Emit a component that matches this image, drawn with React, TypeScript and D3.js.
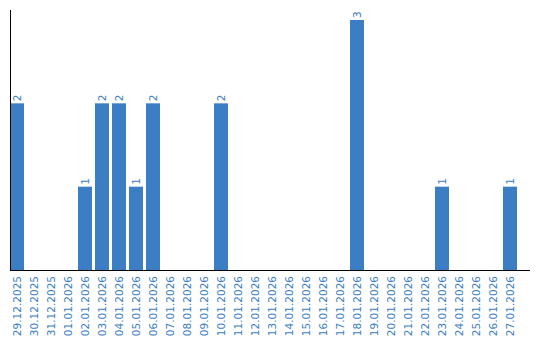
import React from "react";
import * as d3 from "d3";

const categories: string[] = [
  "29.12.2025", "30.12.2025", "31.12.2025", "01.01.2026", "02.01.2026", "03.01.2026",
  "04.01.2026", "05.01.2026", "06.01.2026", "07.01.2026", "08.01.2026", "09.01.2026",
  "10.01.2026", "11.01.2026", "12.01.2026", "13.01.2026", "14.01.2026", "15.01.2026",
  "16.01.2026", "17.01.2026", "18.01.2026", "19.01.2026", "20.01.2026", "21.01.2026",
  "22.01.2026", "23.01.2026", "24.01.2026", "25.01.2026", "26.01.2026", "27.01.2026",
];
const values: number[] = [
  2, 0, 0, 0, 1, 2, 2, 1, 2, 0, 0, 0, 2, 0, 0, 0, 0, 0, 0, 0, 3, 0, 0, 0, 0, 1, 0, 0, 0, 1,
];

const W = 540;
const H = 340;
const color = "#3b7ec3";
const font = "'DejaVu Sans', Verdana, sans-serif";

export default function App() {
  const x = d3.scaleBand<string>().domain(categories).range([10, 517]).paddingInner(3 / 17).paddingOuter(0);
  const y = d3.scaleLinear().domain([0, 3.12]).range([270, 10]);
  const bw = x.bandwidth();
  return (
    <svg width={W} height={H} style={{ position: "absolute", left: 0, top: 0 }}>
      {categories.map((c, i) => {
        const v = values[i];
        if (!v) return null;
        const x0 = x(c)!;
        return (
          <rect key={"b" + c} x={x0} y={y(v)} width={bw} height={y(0) - y(v)} fill={color} />
        );
      })}
      {categories.map((c, i) => {
        const v = values[i];
        if (!v) return null;
        const cx = x(c)! + bw / 2;
        return (
          <text
            key={"v" + c}
            transform={`translate(${cx + 4},${y(v) - 2}) rotate(-90)`}
            fontFamily={font}
            fontSize={10.5}
            fill={color}
          >
            {v}
          </text>
        );
      })}
      <line x1={10.5} x2={10.5} y1={10} y2={270} stroke="#000" strokeWidth={1} />
      <line x1={10} x2={530} y1={270.5} y2={270.5} stroke="#000" strokeWidth={1} />
      {categories.map((c) => {
        const cx = x(c)! + bw / 2;
        return (
          <text
            key={"t" + c}
            transform={`translate(${cx + 4},${276}) rotate(-90)`}
            textAnchor="end"
            fontFamily={font}
            fontSize={10.5}
            fill={color}
          >
            {c}
          </text>
        );
      })}
    </svg>
  );
}
